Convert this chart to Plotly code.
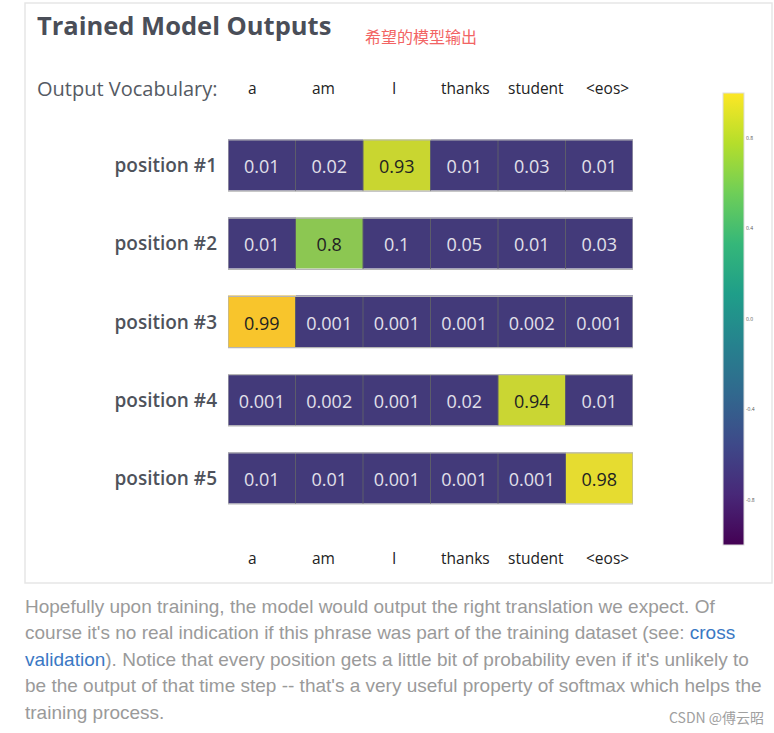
import plotly.graph_objects as go

# ---- data ----
vocab = ["a", "am", "I", "thanks", "student", "<eos>"]
positions = ["position #1", "position #2", "position #3", "position #4", "position #5"]
probs = [
    [0.01, 0.02, 0.93, 0.01, 0.03, 0.01],
    [0.01, 0.8, 0.1, 0.05, 0.01, 0.03],
    [0.99, 0.001, 0.001, 0.001, 0.002, 0.001],
    [0.001, 0.002, 0.001, 0.02, 0.94, 0.01],
    [0.01, 0.01, 0.001, 0.001, 0.001, 0.98],
]
cbar_ticks = [-0.8, -0.4, 0.0, 0.4, 0.8]

W, H = 774, 733
nrows, ncols = len(positions), len(vocab)

cell_scale = [
    [0.0, "#433a7a"], [0.2, "#433a7a"], [0.8, "#8cc752"], [0.93, "#c9d630"],
    [0.94, "#cad633"], [0.98, "#e6dc30"], [0.99, "#f8c52c"], [1.0, "#f8c52c"],
]

fig = go.Figure()
fig.add_trace(go.Heatmap(
    z=probs, x=list(range(ncols)), y=list(range(nrows)),
    colorscale=cell_scale, zmin=0, zmax=1, showscale=False,
    ygap=27, xgap=0, hoverinfo="skip",
))

# cell text
tx, ty, tt, tc = [], [], [], []
for j, row in enumerate(probs):
    for i, v in enumerate(row):
        tx.append(i); ty.append(j + 0.04); tt.append(f"{v:g}")
        tc.append("#222222" if v > 0.5 else "#e2e0ea")
fig.add_trace(go.Scatter(
    x=tx, y=ty, text=tt, mode="text", hoverinfo="skip",
    textfont=dict(family="Open Sans", size=18, color=tc), showlegend=False,
))

# colorbar (viridis, -1..1)
fig.add_trace(go.Scatter(
    x=[None], y=[None], mode="markers", showlegend=False, hoverinfo="skip",
    marker=dict(
        color=[0], colorscale="Viridis", cmin=-1, cmax=1, showscale=True,
        colorbar=dict(
            x=723 / W, xanchor="left", y=1 - 319 / H, yanchor="middle",
            len=452 / H, lenmode="fraction", thickness=21, thicknessmode="pixels",
            xpad=0, ypad=0, outlinecolor="#dddddd", outlinewidth=1,
            tickvals=cbar_ticks, ticktext=[f"{t:.1f}" for t in cbar_ticks],
            ticks="", tickfont=dict(size=5, color="#555555"),
        ),
    ),
))

# cell borders
f = 13.5 / 78.2
shapes = []
for j in range(nrows):
    for i in range(1, ncols):
        shapes.append(dict(type="line", xref="x", yref="y", x0=i - 0.5, x1=i - 0.5,
                           y0=j - 0.5 + f, y1=j + 0.5 - f,
                           line=dict(color="#5c5c6a", width=1)))
    shapes.append(dict(type="rect", xref="x", yref="y", x0=-0.5, x1=ncols - 0.5,
                       y0=j - 0.5 + f, y1=j + 0.5 - f,
                       line=dict(color="#b5b5b5", width=1.2)))
# outer card border
shapes.append(dict(type="rect", xref="paper", yref="paper", x0=25 / W, x1=772 / W,
                   y0=1 - 583 / H, y1=1 - 3 / H, layer="below",
                   line=dict(color="#e6e6e6", width=1.5)))

ann = []
ann.append(dict(text="<b>Trained Model Outputs</b>", xref="paper", yref="paper",
                x=35 / W, y=1 - 25 / H, xanchor="left", yanchor="middle", showarrow=False,
                font=dict(family="Open Sans", size=25.5, color="#4a4e58")))
ann.append(dict(text="希望的模型输出", xref="paper", yref="paper",
                x=363 / W, y=1 - 36 / H, xanchor="left", yanchor="middle", showarrow=False,
                font=dict(family="Noto Sans CJK SC", size=16, color="#f26464")))
ann.append(dict(text="Output Vocabulary:", xref="paper", yref="paper",
                x=35 / W, y=1 - 88 / H, xanchor="left", yanchor="middle", showarrow=False,
                font=dict(family="Open Sans", size=20, color="#555a63", weight=500)))
for i, lab in enumerate(vocab):
    xpos = i * 1.052 - 0.14
    for ypx in (88, 558):
        ann.append(dict(text=lab.replace("<", "&lt;").replace(">", "&gt;"),
                        xref="x", yref="paper", x=xpos, y=1 - ypx / H,
                        xanchor="center", yanchor="middle", showarrow=False,
                        font=dict(family="Open Sans", size=15.5, color="#222222")))

para = [
    "Hopefully upon training, the model would output the right translation we expect. Of",
    "course it's no real indication if this phrase was part of the training dataset (see: "
    "<span style='color:#3a78c4'>cross</span>",
    "<span style='color:#3a78c4'>validation</span>). Notice that every position gets a little bit of probability even if it's unlikely to",
    "be the output of that time step -- that's a very useful property of softmax which helps the",
    "training process.",
]
for k, line in enumerate(para):
    ann.append(dict(text=line, xref="paper", yref="paper", x=23 / W, y=1 - (606 + 26.6 * k) / H,
                    xanchor="left", yanchor="middle", showarrow=False,
                    font=dict(family="Liberation Sans", size=19, color="#9a9a9a")))
ann.append(dict(text="CSDN @傅云昭", xref="paper", yref="paper", x=766 / W, y=1 - 717 / H,
                xanchor="right", yanchor="middle", showarrow=False,
                font=dict(family="Noto Sans CJK SC", size=14, color="#a0a0a0")))

fig.update_layout(
    width=W, height=H, margin=dict(l=0, r=0, t=0, b=0),
    paper_bgcolor="white", plot_bgcolor="rgba(0,0,0,0)",
    xaxis=dict(domain=[228 / W, 633 / W], range=[-0.5, ncols - 0.5], showgrid=False,
               zeroline=False, showticklabels=False, fixedrange=True),
    yaxis=dict(domain=[1 - 517.5 / H, 1 - 126.5 / H], range=[nrows - 0.5, -0.5],
               showgrid=False, zeroline=False, tickvals=list(range(nrows)), ticktext=positions,
               ticks="", ticklabelstandoff=10,
               tickfont=dict(family="Open Sans", size=19, color="#4e525b", weight=600),
               fixedrange=True),
    shapes=shapes, annotations=ann, showlegend=False,
)
fig.write_html("out.html")
